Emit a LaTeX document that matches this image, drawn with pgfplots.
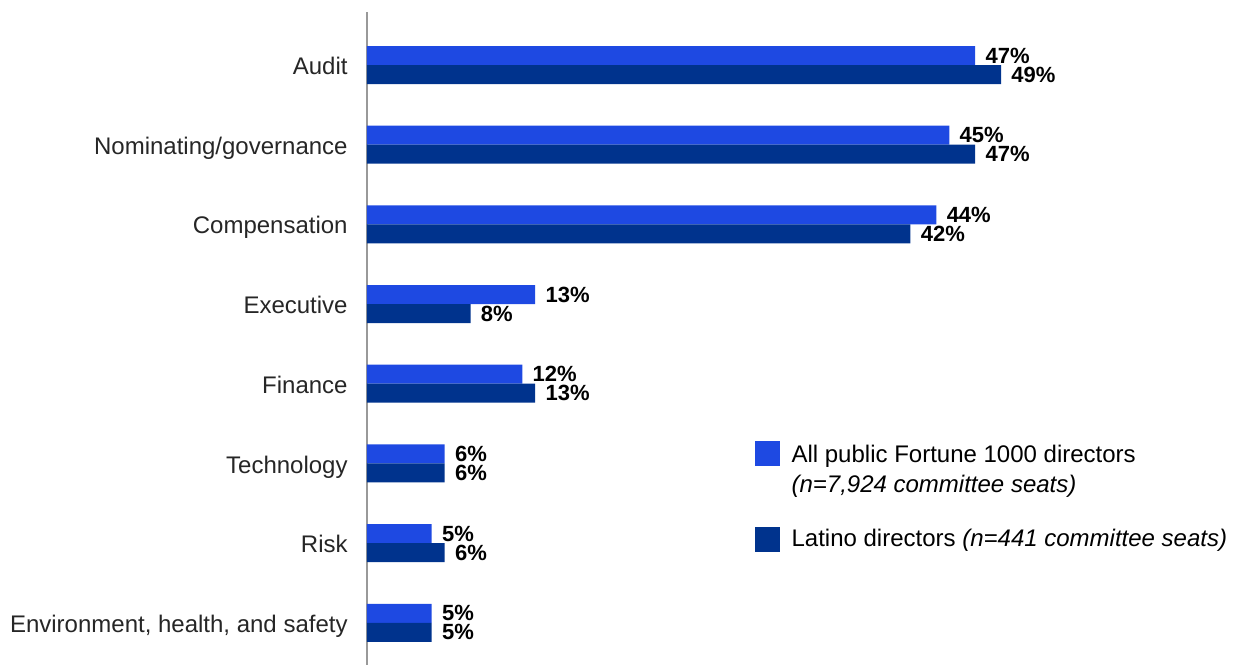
\documentclass[border=0pt]{standalone}
\usepackage{fontspec}
\setmainfont{Liberation Sans}
\usepackage{pgfplots}
\pgfplotsset{compat=1.18}
\definecolor{allblue}{HTML}{1E49E2}
\definecolor{latblue}{HTML}{00338D}
\begin{document}
\begin{tikzpicture}
\useasboundingbox (-183.5pt,0pt) rectangle (433.5pt,332.5pt);
\begin{axis}[
  scale only axis, width=388.2pt, height=326.5pt,
  xbar, bar width=9.5pt,
  xmin=0, xmax=60,
  ymin=-0.665, ymax=7.53, y dir=reverse,
  axis x line=none, axis y line=left,
  y axis line style={-, draw=gray!80, line width=0.6pt},
  ytick={0,...,7},
  yticklabels={Audit, Nominating/governance, Compensation, Executive, Finance, Technology, Risk, {Environment, health, and safety}},
  major tick length=0pt,
  yticklabel style={font=\fontsize{12}{14}\selectfont, color=black!85, inner sep=0pt,
    text height=8.6pt, text depth=0pt, xshift=-9.5pt, yshift=-0.5pt},
  point meta=explicit symbolic,
  nodes near coords,
  nodes near coords style={font=\bfseries\fontsize{11}{12}\selectfont, black, anchor=west, inner sep=5pt},
  legend cell align=left,
  legend style={at={(0.4987,0.349)}, anchor=north west, draw=none, fill=none,
    inner sep=0pt, font=\fontsize{12}{15}\selectfont, row sep=28pt},
  legend image code/.code={\fill[#1] (0pt,-6.25pt) rectangle (12.5pt,6.25pt);
    \path (16.5pt,0pt);},
]
\addplot[draw=none, fill=allblue, bar shift=4.75pt] coordinates {
  (47,0) [47\%] (45,1) [45\%] (44,2) [44\%] (13,3) [13\%]
  (12,4) [12\%] (6,5) [6\%] (5,6) [5\%] (5,7) [5\%]};
\addlegendentry{\begin{tabular}[t]{@{}l@{}}All public Fortune 1000 directors\\\textit{(n=7,924 committee seats)}\end{tabular}}
\addplot[draw=none, fill=latblue, bar shift=-4.75pt] coordinates {
  (49,0) [49\%] (47,1) [47\%] (42,2) [42\%] (8,3) [8\%]
  (13,4) [13\%] (6,5) [6\%] (6,6) [6\%] (5,7) [5\%]};
\addlegendentry{Latino directors \textit{(n=441 committee seats)}}
\end{axis}
\end{tikzpicture}
\end{document}
